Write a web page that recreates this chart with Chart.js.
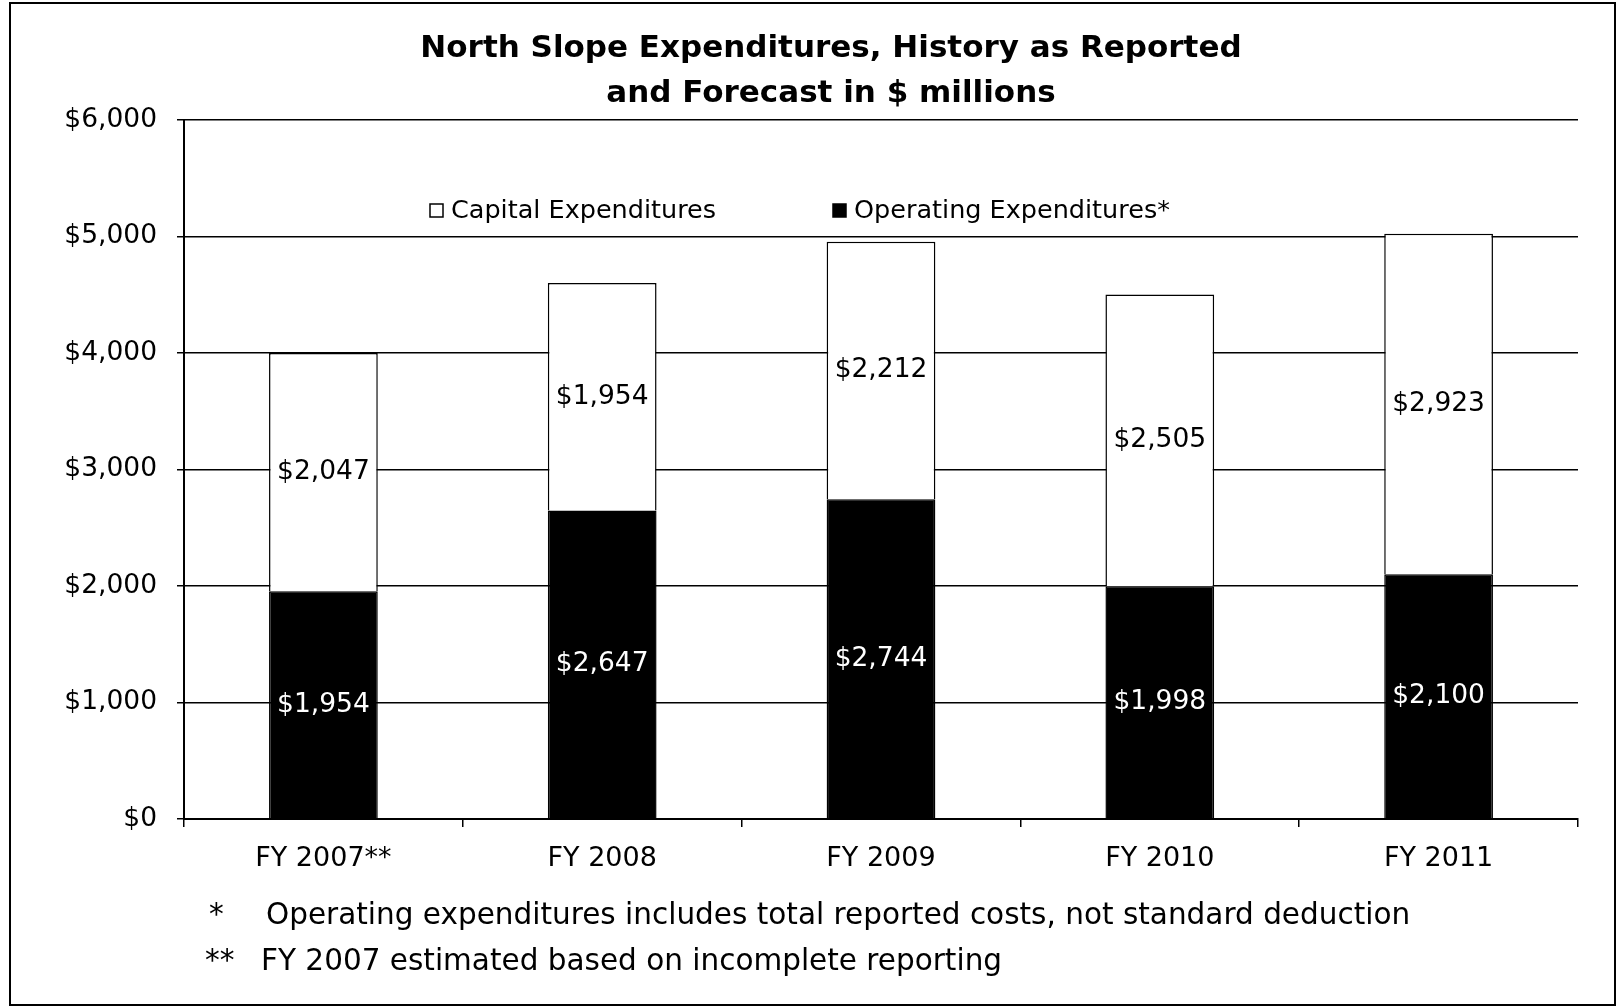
<!DOCTYPE html>
<html>
<head>
<meta charset="utf-8">
<script src="https://cdn.jsdelivr.net/npm/chart.js@4"></script>
<style>
  html, body { margin: 0; padding: 0; background: #fff; }
  #wrap { position: relative; width: 1619px; height: 1008px; }
  #frame { position: absolute; left: 9px; top: 2px; width: 1603px; height: 1000px;
           border: 2px solid #000; pointer-events: none; }
</style>
</head>
<body>
<div id="wrap">
  <canvas id="myChart"></canvas>
  <div id="frame"></div>
</div>
<script>
const labels = ['FY 2007**', 'FY 2008', 'FY 2009', 'FY 2010', 'FY 2011'];
const operating = [1954, 2647, 2744, 1998, 2100];
const capital = [2047, 1954, 2212, 2505, 2923];
const yTicks = [0, 1000, 2000, 3000, 4000, 5000, 6000];
const titleLines = ['North Slope Expenditures, History as Reported', 'and Forecast in $ millions'];
const notes = [
    ['*', 'Operating expenditures includes total reported costs, not standard deduction'],
    ['**', 'FY 2007 estimated based on incomplete reporting'],
];

const FONT = "'DejaVu Sans', sans-serif";

function money(v) {
    return '$' + v.toLocaleString('en-US');
}

// numbers in the middle of each bar segment
const barLabels = {
    id: 'barLabels',
    afterDatasetsDraw(chart) {
        const ctx = chart.ctx;
        ctx.save();
        ctx.font = '26.5px ' + FONT;
        ctx.textAlign = 'center';
        ctx.textBaseline = 'middle';
        chart.data.datasets.forEach((ds, i) => {
            const meta = chart.getDatasetMeta(i);
            meta.data.forEach((bar, j) => {
                const p = bar.getProps(['x', 'y', 'base'], true);
                ctx.fillStyle = i === 0 ? '#fff' : '#000';
                ctx.fillText(money(ds.data[j]), p.x, (p.y + p.base) / 2);
            });
        });
        ctx.restore();
    }
};

// title (a bit right of centre), legend inside the plot, footnotes under the axis
const extras = {
    id: 'extras',
    afterDraw(chart) {
        const ctx = chart.ctx;
        const ds = chart.data.datasets;
        ctx.save();
        ctx.fillStyle = '#000';
        ctx.textBaseline = 'middle';
        ctx.textAlign = 'center';
        ctx.font = 'bold 31px ' + FONT;
        ctx.fillText(titleLines[0], 831, 49);
        ctx.fillText(titleLines[1], 831, 94);

        ctx.font = '25.5px ' + FONT;
        ctx.textAlign = 'left';
        const items = [[ds[1], 430], [ds[0], 833]];
        items.forEach(([d, x]) => {
            const y = 211;
            ctx.fillStyle = d.backgroundColor;
            ctx.fillRect(x, y - 7, 13, 13);
            ctx.strokeStyle = '#000';
            ctx.lineWidth = 1.5;
            ctx.strokeRect(x, y - 7, 13, 13);
            ctx.fillStyle = '#000';
            ctx.fillText(d.label, x + 21, y);
        });

        ctx.font = '29.5px ' + FONT;
        ctx.fillText(notes[0][0], 209, 916);
        ctx.fillText(notes[0][1], 266, 916);
        ctx.fillText(notes[1][0], 205, 962);
        ctx.fillText(notes[1][1], 261, 962);
        ctx.restore();
    }
};

const data = {
    labels: labels,
    datasets: [
        {
            label: 'Operating Expenditures*',
            data: operating,
            backgroundColor: '#000',
            borderColor: '#000',
            borderWidth: 1.5,
        },
        {
            label: 'Capital Expenditures',
            data: capital,
            backgroundColor: '#fff',
            borderColor: '#000',
            borderWidth: 1.5,
        }
    ]
};

const config = {
    type: 'bar',
    data: data,
    options: {
        responsive: true,
        maintainAspectRatio: false,
        animation: false,
        layout: { padding: { left: 56, right: 41, top: 120, bottom: 129 } },
        datasets: { bar: { barPercentage: 0.39, categoryPercentage: 1 } },
        plugins: {
            legend: { display: false },
            tooltip: { enabled: false },
            title: { display: false }
        },
        scales: {
            x: {
                stacked: true,
                border: { display: true, color: '#000', width: 2 },
                grid: { drawOnChartArea: false, drawTicks: true, tickLength: 8, color: '#000', lineWidth: 1.5 },
                ticks: { color: '#000', font: { family: FONT, size: 27 }, padding: 16 },
                afterFit(scale) { scale.height = 60; }
            },
            y: {
                stacked: true,
                min: 0,
                max: 6000,
                border: { display: true, color: '#000', width: 2 },
                grid: { color: '#000', lineWidth: 1.5, drawTicks: true, tickLength: 7 },
                afterBuildTicks(scale) { scale.ticks = yTicks.map(v => ({ value: v })); },
                ticks: {
                    color: '#000',
                    font: { family: FONT, size: 26.5 },
                    padding: 20,
                    callback: v => money(v)
                },
                afterFit(scale) { scale.width = 128; }
            }
        }
    },
    plugins: [barLabels, extras]
};

const myChart = new Chart(
    document.getElementById('myChart'),
    config
);
</script>
</body>
</html>
